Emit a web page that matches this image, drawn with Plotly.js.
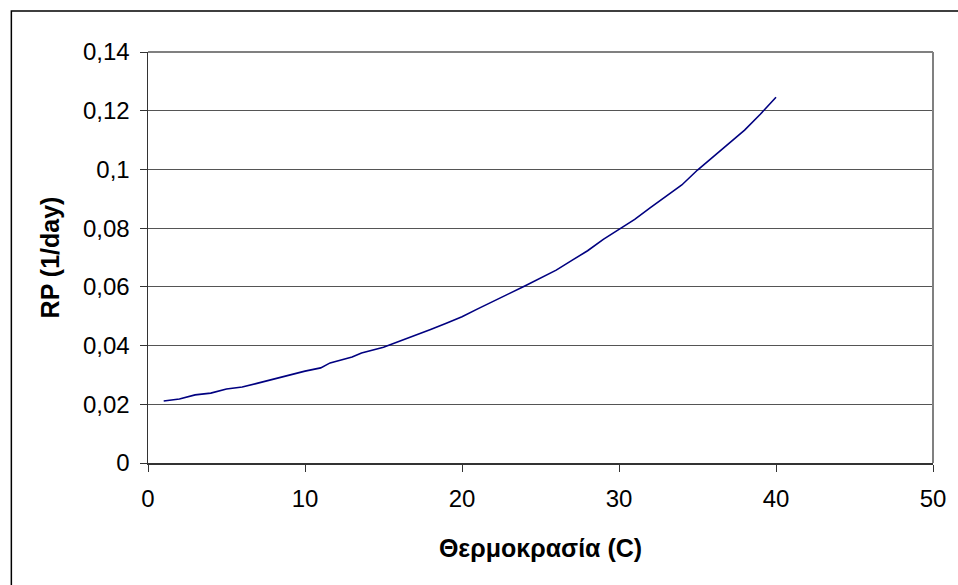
<!DOCTYPE html>
<html>
<head>
<meta charset="utf-8">
<script src="https://cdn.plot.ly/plotly-3.0.1.min.js"></script>
<style>html,body{margin:0;padding:0;background:#fff}#chart{width:958px;height:585px}</style>
</head>
<body>
<div id="chart"></div>
<script>
var temperature = [1,2,3,4,5,6,7,8,9,10,11,11.6,13,13.6,15,16,17,18,19,20,21,22,23,24,25,26,27,28,29,30,31,32,33,34,35,36,37,38,39,40];
var rp = [0.0211,0.0218,0.0232,0.0238,0.0252,0.0259,0.0272,0.0286,0.0300,0.0313,0.0324,0.0341,0.0361,0.0375,0.0394,0.0414,0.0433,0.0455,0.0476,0.0498,0.0525,0.0550,0.0577,0.0603,0.0630,0.0657,0.0690,0.0723,0.0762,0.0795,0.0830,0.0870,0.0910,0.0947,0.0998,0.1043,0.1088,0.1134,0.1188,0.1246];
var yTickVals = [0,0.02,0.04,0.06,0.08,0.1,0.12,0.14];
var yTickText = ['0','0,02','0,04','0,06','0,08','0,1','0,12','0,14'];
var xTickVals = [0,10,20,30,40,50];
var xTitle = 'Θερμοκρασία (C)';
var yTitle = 'RP (1/day)';

var font = 'Arial, "Liberation Sans", sans-serif';
var trace = {x: temperature, y: rp, type: 'scatter', mode: 'lines',
  line: {color: '#000080', width: 1.6}, hoverinfo: 'none'};

var layout = {
  width: 958, height: 585,
  margin: {l: 148, r: 25, t: 52, b: 122},
  paper_bgcolor: '#ffffff', plot_bgcolor: '#ffffff',
  showlegend: false,
  font: {family: font, color: '#000000', size: 24},
  xaxis: {
    range: [0, 50], tickvals: xTickVals, ticktext: xTickVals.map(String),
    showgrid: false, zeroline: false, showline: true, linecolor: '#333333', linewidth: 1.5,
    ticks: 'outside', ticklen: 7, tickcolor: '#333333', tickwidth: 1,
    ticklabelstandoff: 7,
    tickfont: {family: font, size: 24, color: '#000'},
    title: {text: '<b>' + xTitle + '</b>', font: {family: font, size: 25, color: '#000'}, standoff: 28}
  },
  yaxis: {
    range: [0, 0.14], tickvals: yTickVals, ticktext: yTickText,
    showgrid: true, gridcolor: '#555555', gridwidth: 1,
    zeroline: false, showline: true, linecolor: '#333333', linewidth: 1.5,
    ticks: 'outside', ticklen: 7, tickcolor: '#333333', tickwidth: 1,
    ticklabelstandoff: 5,
    tickfont: {family: font, size: 24, color: '#000'},
    title: {text: '<b>' + yTitle + '</b>', font: {family: font, size: 25, color: '#000'}, standoff: 16}
  },
  shapes: [
    {type: 'line', xref: 'x domain', yref: 'y domain', x0: 0, x1: 1, y0: 1, y1: 1, line: {color: '#808080', width: 2}},
    {type: 'line', xref: 'x domain', yref: 'y domain', x0: 1, x1: 1, y0: 0, y1: 1, line: {color: '#808080', width: 2}},
    {type: 'rect', xref: 'paper', yref: 'paper', x0: -141/810, x1: 1.2, y0: -1, y1: 1 + 41/411, line: {color: '#000000', width: 1.5}, fillcolor: 'rgba(0,0,0,0)'}
  ]
};
Plotly.newPlot('chart', [trace], layout, {displayModeBar: false, staticPlot: true});
</script>
</body>
</html>
